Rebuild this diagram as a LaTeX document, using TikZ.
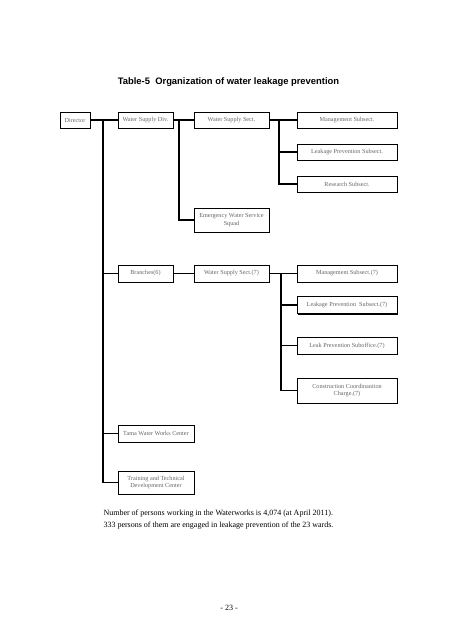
\documentclass[tikz,border=0pt]{standalone}
\usepackage{fontspec}
\setmainfont{Liberation Serif}
\newfontfamily\titlefont{Liberation Sans}
\usetikzlibrary{shadows}

\tikzset{
  unit/.style={draw, fill=white, line width=0.6pt, inner sep=1pt, align=center,
    font=\fontsize{6.2}{7.4}\selectfont, text=black!60,
    drop shadow={shadow xshift=1pt, shadow yshift=-1pt, fill=black, opacity=1}},
  conn/.style={line width=1.7pt}
}

\begin{document}
\begin{tikzpicture}[x=1pt, y=-1pt]
		\useasboundingbox (0,0) rectangle (452,640);
		\node[font=\titlefont\bfseries\fontsize{9.4}{11}\selectfont] (title) at (228.5,82) {Table-5\ \ Organization of water leakage prevention};
		%%
		\node[unit, minimum width=30pt, minimum height=16pt] (dir) at (75,120) {Director};
		\node[unit, minimum width=55pt, minimum height=16pt] (div) at (145.5,120) {Water Supply Div.};
		\node[unit, minimum width=75pt, minimum height=16pt] (sect) at (231.5,120) {Water Supply Sect.};
		\node[unit, minimum width=100pt, minimum height=16pt] (mgmt) at (347,120) {Management Subsect.};
		\node[unit, minimum width=100pt, minimum height=16pt] (leak) at (347,152) {Leakage Prevention Subsect.};
		\node[unit, minimum width=100pt, minimum height=16pt] (res) at (347,184) {Research Subsect.};
		\node[unit, minimum width=75pt, minimum height=24pt] (emer) at (231.5,220) {Emergency Water Service\\Squad};
		%%
		\node[unit, minimum width=55pt, minimum height=17pt] (branch) at (145.5,273.5) {Branches(6)};
		\node[unit, minimum width=75pt, minimum height=17pt] (bsect) at (231.5,273.5) {Water Supply Sect.(7)};
		\node[unit, minimum width=100pt, minimum height=17pt] (bmgmt) at (347,273.5) {Management Subsect.(7)};
		\node[unit, minimum width=100pt, minimum height=17pt] (bleak) at (347,305) {Leakage Prevention\ \ Subsect.(7)};
		\node[unit, minimum width=100pt, minimum height=17pt] (boff) at (347,345.5) {Leak Prevention Suboffice.(7)};
		\node[unit, minimum width=100pt, minimum height=25pt] (bcons) at (347,390.5) {Construction Coordinantion\\Charge.(7)};
		%%
		\node[unit, minimum width=76pt, minimum height=17pt] (tama) at (156,433.5) {Tama Water Works Center};
		\node[unit, minimum width=76pt, minimum height=23pt] (train) at (156,482.5) {Training and Technical\\Development Center};
		%%
		\draw[conn] (dir) -- (div);
		\foreach \n in {branch,tama,train}
			\draw[conn] ([xshift=13pt]dir.east) |- (\n.west);
		\draw[conn] (div) -- (sect);
		\draw[conn] ([xshift=6pt]div.east) |- (emer.west);
		\draw[conn] (sect) -- (mgmt);
		\foreach \n in {leak,res}
			\draw[conn] ([xshift=10pt]sect.east) |- (\n.west);
		\draw[conn] (branch) -- (bsect);
		\draw[conn] (bsect) -- (bmgmt);
		\foreach \n in {bleak,boff,bcons}
			\draw[conn] ([xshift=12pt]bsect.east) |- (\n.west);
		%%
		\node[anchor=west, align=left, font=\fontsize{8}{12}\selectfont] (note) at (100,520) {Number of persons working in the Waterworks is 4,074 (at April 2011).\\333 persons of them are engaged in leakage prevention of the 23 wards.};
		\node[font=\fontsize{8}{10}\selectfont] (page) at (229,608) {- 23 -};
\end{tikzpicture}
\end{document}
